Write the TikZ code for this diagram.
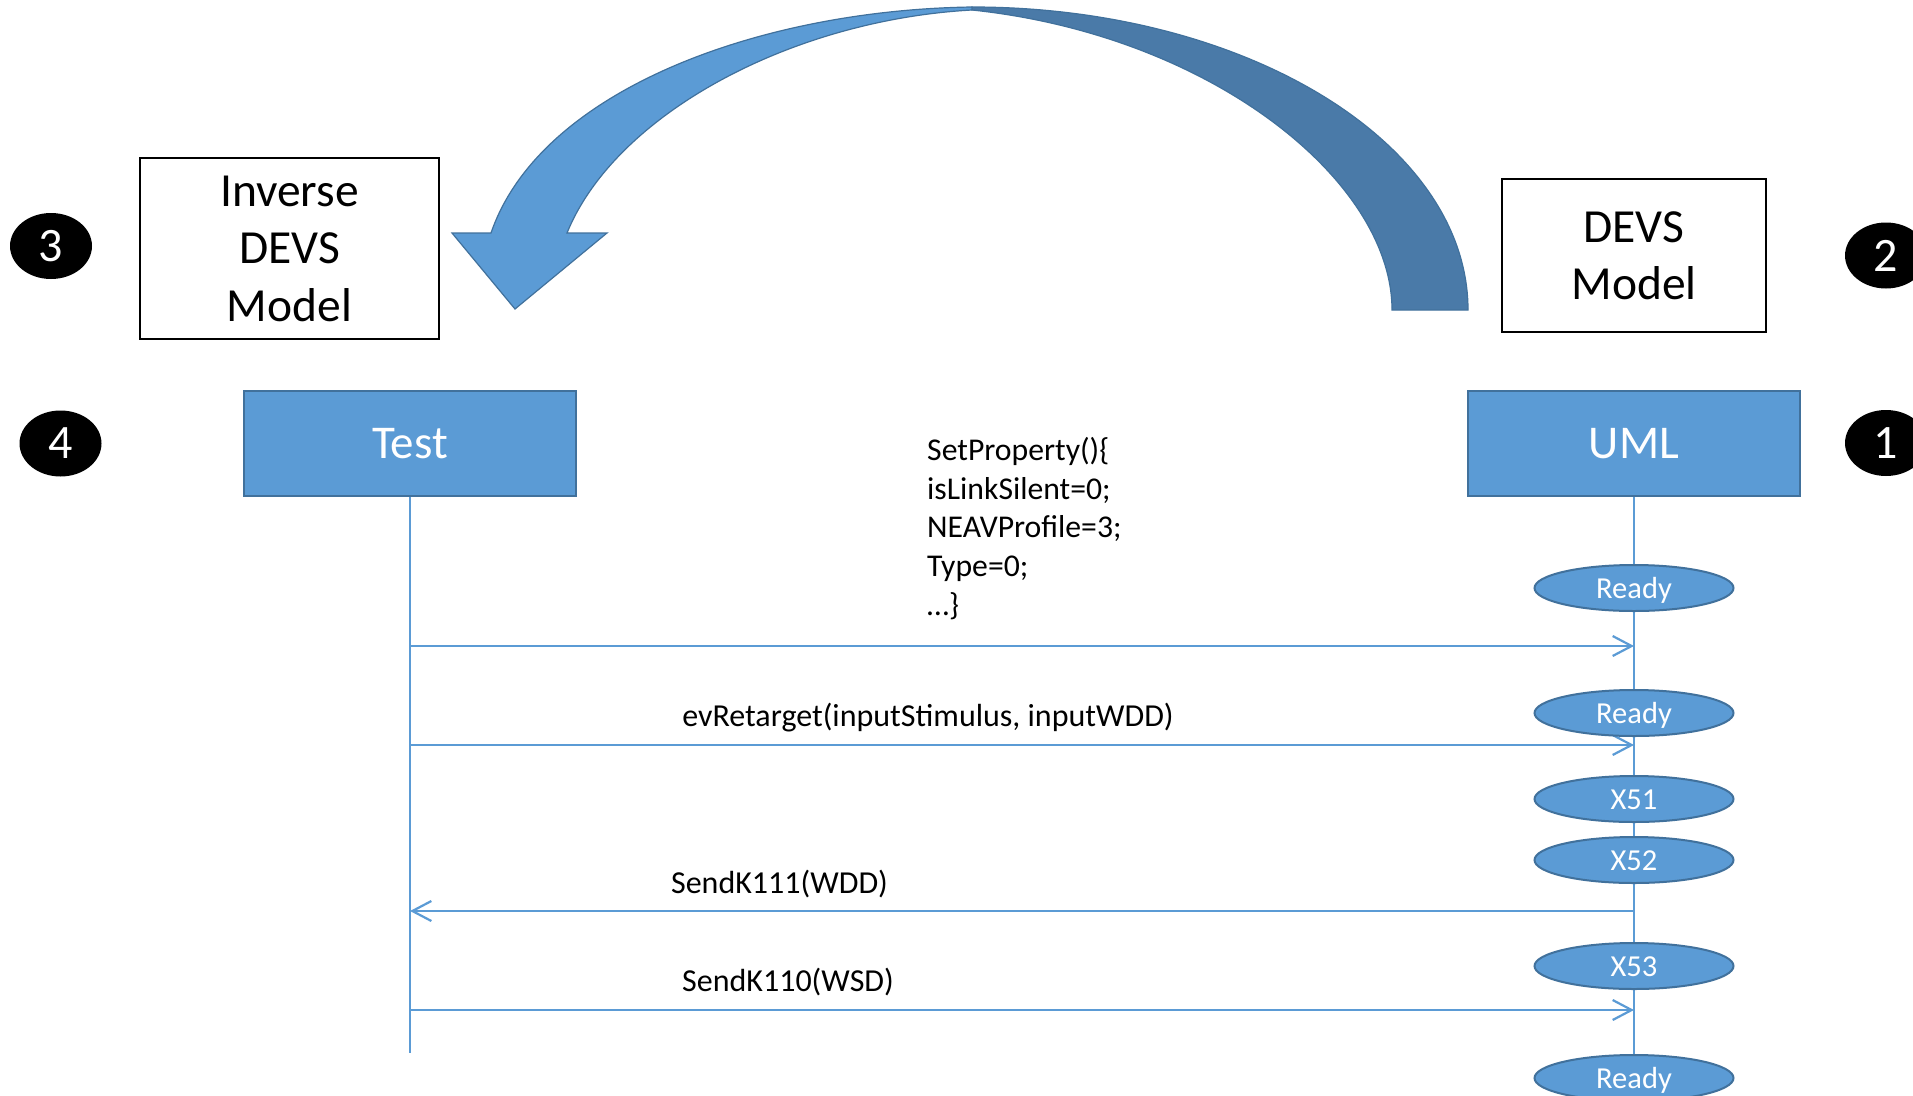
\documentclass[tikz,border=0pt]{standalone}
\usepackage{fontspec}
\setmainfont{Carlito}
\usetikzlibrary{arrows.meta,shapes.geometric}
\definecolor{lblue}{HTML}{5B9BD5}
\definecolor{bstroke}{HTML}{41719C}
\definecolor{dback}{HTML}{4A7AA8}
\begin{document}
\begin{tikzpicture}[x=1pt,y=-1pt,
  plain/.style={draw=black,line width=2.5pt,fill=white,inner sep=0,align=center,font=\fontsize{47.5}{57.5}\selectfont},
  actor/.style={draw=bstroke,line width=2pt,fill=lblue,text=white,inner sep=0,font=\fontsize{47}{57}\selectfont},
  state/.style={ellipse,draw=bstroke,line width=2pt,fill=lblue,text=white,minimum width=199pt,minimum height=46pt,inner sep=0,text height=20pt,text depth=0pt,font=\fontsize{30.5}{36}\selectfont},
  badge/.style={ellipse,fill=black,text=white,minimum width=82pt,minimum height=66pt,inner sep=0,font=\fontsize{48}{58}\selectfont},
  life/.style={draw=lblue,line width=1.6pt},
  msg/.style={draw=lblue,line width=2.2pt,-{Straight Barb[length=19pt,width=20pt]}},
  lbl/.style={inner sep=0,anchor=base,font=\fontsize{32}{38.7}\selectfont},
  bigarrow/.style={draw=bstroke,line width=1.2pt}
]
\useasboundingbox (0,0) rectangle (1913,1095);
\clip (0,0) rectangle (1913,1095);
\fill[white] (0,0) rectangle (1913,1095);

% curved block arrow
\fill[dback,bigarrow] (972,7) .. controls (1246,7) and (1468,143) .. (1468,310) -- (1392,310) .. controls (1392,180) and (1210,35) .. (972,10) -- cycle;
\fill[lblue,bigarrow] (452,233) -- (491,233) .. controls (540,90) and (760,10) .. (972,7) -- (972,10) .. controls (790,20) and (615,115) .. (567,233) -- (607,233) -- (515,309) -- cycle;

% boxes
\node[plain,minimum width=299pt,minimum height=181pt,text depth=0pt] (inv) at (289.5,248.5) {Inverse\\DEVS\\Model};
\node[plain,minimum width=264pt,minimum height=153pt] (devs) at (1634,255.5) {DEVS\\Model};
\node[actor,minimum width=332pt,minimum height=105pt] (test) at (410,443.5) {Test};
\node[actor,minimum width=332pt,minimum height=105pt] (uml) at (1634,443.5) {UML};

% badges
\node[badge] (c3) at (51,246) {3};
\node[badge] (c4) at (60.5,443.5) {4};
\node[badge] (c2) at (1886,255.5) {2};
\node[badge] (c1) at (1886,443) {1};

% lifelines
\coordinate (testend) at (410,1053);
\coordinate (umlend) at (1634,1100);
\draw[life] (test.south) -- (testend);
\draw[life] (uml.south) -- (umlend);

% messages
\coordinate (a1) at (410,646);  \coordinate (b1) at (1634,646);
\coordinate (a2) at (410,745);  \coordinate (b2) at (1634,745);
\coordinate (a3) at (410,911);  \coordinate (b3) at (1634,911);
\coordinate (a4) at (410,1010); \coordinate (b4) at (1634,1010);
\draw[msg] (a1) -- (b1);
\draw[msg] (a2) -- (b2);
\draw[msg] (b3) -- (a3);
\draw[msg] (a4) -- (b4);

% states
\node[state] (s1) at (1634,588) {Ready};
\node[state] (s2) at (1634,713) {Ready};
\node[state] (s3) at (1634,799) {X51};
\node[state] (s4) at (1634,860) {X52};
\node[state] (s5) at (1634,966) {X53};
\node[state] (s6) at (1634,1078) {Ready};

% labels
\node[inner sep=0,anchor=north west,align=left,font=\fontsize{31.7}{38.7}\selectfont] (l1) at (927,437) {SetProperty()\{\\isLinkSilent=0;\\NEAVProfile=3;\\Type=0;\\…\}};
\node[lbl] (l2) at (928,726) {evRetarget(inputStimulus, inputWDD)};
\node[lbl] (l3) at (779.5,893) {SendK111(WDD)};
\node[lbl] (l4) at (788,991) {SendK110(WSD)};
\end{tikzpicture}
\end{document}
